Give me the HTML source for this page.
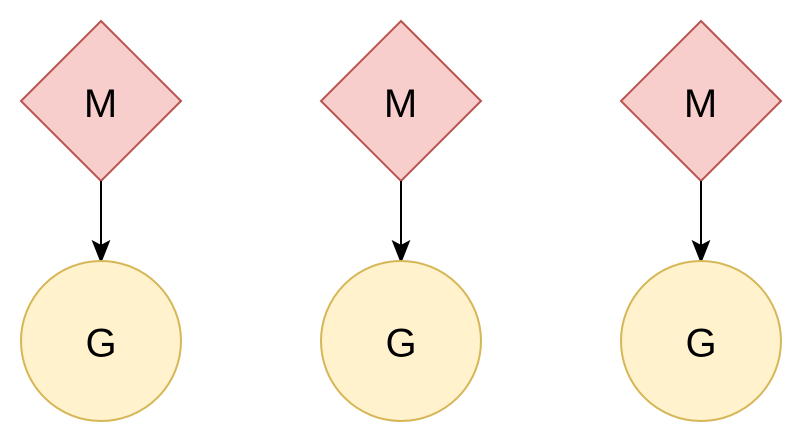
<!DOCTYPE html>
<html>
<head>
<meta charset="utf-8">
<style>
html,body{margin:0;padding:0;background:#fff;}
svg{display:block;}
text{font-family:"Liberation Sans",Arial,sans-serif;font-size:40px;fill:#000;}
</style>
</head>
<body>
<svg width="802" height="442" viewBox="0 0 802 442" xmlns="http://www.w3.org/2000/svg">
  <g>
    <polygon points="101,21 181,101 101,181 21,101" fill="#f8cecc" stroke="#b85450" stroke-width="2"/>
    <text x="100.5" y="117" text-anchor="middle">M</text>
    <line x1="101" y1="181" x2="101" y2="248" stroke="#000" stroke-width="2"/>
    <polygon points="101,261 93.5,242 101,246 108.5,242" fill="#000" stroke="#000" stroke-width="2" stroke-linejoin="miter"/>
    <circle cx="101" cy="341" r="80" fill="#fff2cc" stroke="#d6b656" stroke-width="2"/>
    <text x="101" y="356.5" text-anchor="middle">G</text>
  </g>
  <g transform="translate(300,0)">
    <polygon points="101,21 181,101 101,181 21,101" fill="#f8cecc" stroke="#b85450" stroke-width="2"/>
    <text x="100.5" y="117" text-anchor="middle">M</text>
    <line x1="101" y1="181" x2="101" y2="248" stroke="#000" stroke-width="2"/>
    <polygon points="101,261 93.5,242 101,246 108.5,242" fill="#000" stroke="#000" stroke-width="2" stroke-linejoin="miter"/>
    <circle cx="101" cy="341" r="80" fill="#fff2cc" stroke="#d6b656" stroke-width="2"/>
    <text x="101" y="356.5" text-anchor="middle">G</text>
  </g>
  <g transform="translate(600,0)">
    <polygon points="101,21 181,101 101,181 21,101" fill="#f8cecc" stroke="#b85450" stroke-width="2"/>
    <text x="100.5" y="117" text-anchor="middle">M</text>
    <line x1="101" y1="181" x2="101" y2="248" stroke="#000" stroke-width="2"/>
    <polygon points="101,261 93.5,242 101,246 108.5,242" fill="#000" stroke="#000" stroke-width="2" stroke-linejoin="miter"/>
    <circle cx="101" cy="341" r="80" fill="#fff2cc" stroke="#d6b656" stroke-width="2"/>
    <text x="101" y="356.5" text-anchor="middle">G</text>
  </g>
</svg>
</body>
</html>
